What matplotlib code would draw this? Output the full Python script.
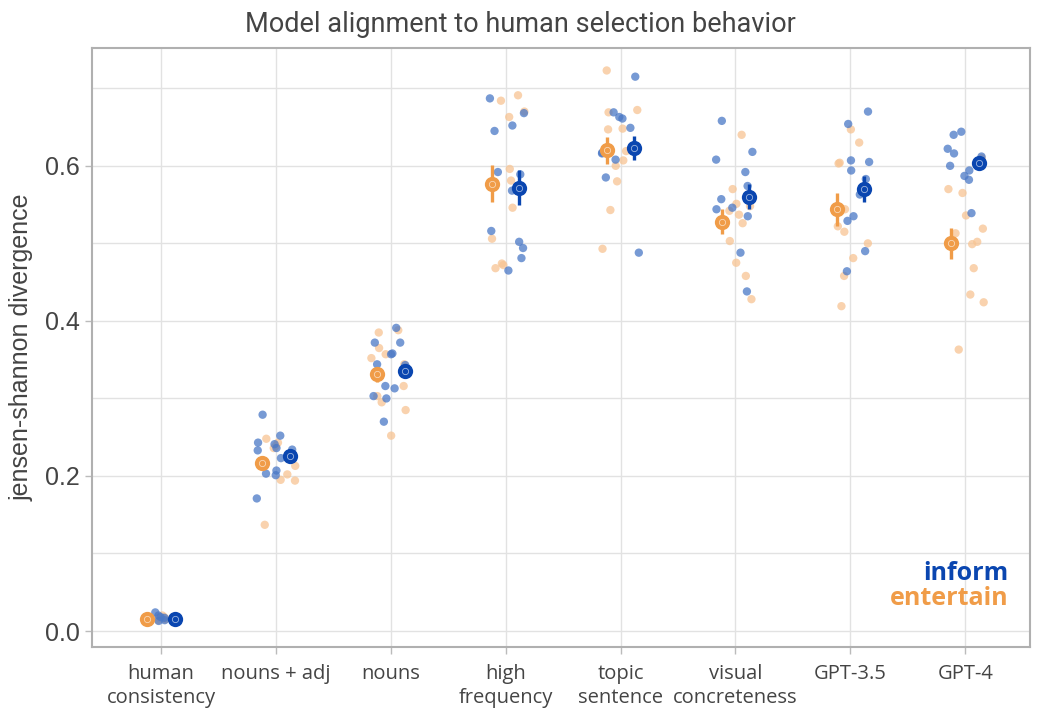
import numpy as np
import matplotlib
matplotlib.use("Agg")
import matplotlib.pyplot as plt
from matplotlib.ticker import MultipleLocator

categories = ["human\nconsistency", "nouns + adj", "nouns", "high\nfrequency",
              "topic\nsentence", "visual\nconcreteness", "GPT-3.5", "GPT-4"]

# condition means and error half-widths
inform_mean = [0.016, 0.226, 0.336, 0.572, 0.623, 0.560, 0.570, 0.604]
inform_err = [0.003, 0.008, 0.009, 0.023, 0.016, 0.016, 0.017, 0.005]
entertain_mean = [0.016, 0.217, 0.331, 0.577, 0.620, 0.528, 0.544, 0.500]
entertain_err = [0.003, 0.009, 0.010, 0.024, 0.017, 0.016, 0.021, 0.020]

# individual scores per category
inform_pts = [
    [0.024, 0.014, 0.017, 0.018, 0.013, 0.020],
    [0.279, 0.252, 0.243, 0.233, 0.236, 0.241, 0.234, 0.223, 0.207, 0.201, 0.203, 0.171],
    [0.391, 0.372, 0.372, 0.358, 0.357, 0.343, 0.316, 0.313, 0.303, 0.300, 0.270, 0.344],
    [0.687, 0.668, 0.645, 0.652, 0.592, 0.589, 0.568, 0.516, 0.502, 0.494, 0.481, 0.465],
    [0.715, 0.663, 0.661, 0.669, 0.649, 0.616, 0.608, 0.617, 0.585, 0.488],
    [0.658, 0.618, 0.608, 0.592, 0.574, 0.557, 0.546, 0.535, 0.544, 0.488, 0.438],
    [0.670, 0.654, 0.605, 0.607, 0.594, 0.583, 0.563, 0.535, 0.529, 0.490, 0.464],
    [0.644, 0.640, 0.622, 0.616, 0.612, 0.604, 0.600, 0.594, 0.587, 0.582, 0.539],
]
entertain_pts = [
    [0.020, 0.016, 0.018, 0.014, 0.017, 0.015],
    [0.248, 0.236, 0.239, 0.243, 0.213, 0.202, 0.195, 0.194, 0.137],
    [0.385, 0.388, 0.365, 0.357, 0.352, 0.316, 0.303, 0.295, 0.285, 0.252, 0.344],
    [0.691, 0.684, 0.670, 0.663, 0.596, 0.581, 0.546, 0.506, 0.472, 0.468, 0.474],
    [0.723, 0.669, 0.672, 0.648, 0.647, 0.623, 0.619, 0.607, 0.600, 0.580, 0.543, 0.493],
    [0.640, 0.570, 0.551, 0.548, 0.542, 0.537, 0.526, 0.503, 0.475, 0.458, 0.428],
    [0.647, 0.630, 0.604, 0.603, 0.544, 0.522, 0.515, 0.500, 0.481, 0.458, 0.419],
    [0.610, 0.570, 0.565, 0.536, 0.519, 0.513, 0.502, 0.499, 0.468, 0.434, 0.424, 0.363],
]

blue_dark = "#0a46b0"
blue_pt = "#4a78c6"
orange_dark = "#f09c48"
orange_pt = "#f7c493"
grey_txt = "#444444"

fig = plt.figure(figsize=(10.4, 7.12), dpi=100)
ax = fig.add_axes([0.0885, 0.0913, 0.9015, 0.8413])

rng = np.random.default_rng(7)
x = np.arange(len(categories))
for i in x:
    ye = np.array(entertain_pts[i])
    yi = np.array(inform_pts[i])
    spread = 0.05 if i == 0 else 0.17
    ax.scatter(i + rng.uniform(-spread, spread, len(ye)), ye, s=36, color=orange_pt,
               alpha=0.75, edgecolors="none", zorder=3)
    ax.scatter(i + rng.uniform(-spread, spread, len(yi)), yi, s=36, color=blue_pt,
               alpha=0.75, edgecolors="none", zorder=3)

dodge = 0.12
for xs, m, e, c in [(x - dodge, entertain_mean, entertain_err, orange_dark),
                    (x + dodge, inform_mean, inform_err, blue_dark)]:
    ax.errorbar(xs, m, yerr=e, fmt="none", ecolor=c, elinewidth=2.4, capsize=0, zorder=4)
    ax.plot(xs, m, "o", color=c, markersize=11, markeredgewidth=0, zorder=5)
    ax.plot(xs, m, "o", markerfacecolor="none", markeredgecolor="white",
            markersize=4.5, markeredgewidth=0.6, alpha=0.6, zorder=6)

ax.set_xlim(-0.60, 7.56)
ax.set_ylim(-0.0206, 0.752)
ax.set_xticks(x)
ax.set_xticklabels(categories, fontsize=14.5, color=grey_txt, family="Open Sans",
                   linespacing=1.3)
ax.yaxis.set_major_locator(MultipleLocator(0.2))
ax.yaxis.set_minor_locator(MultipleLocator(0.1))
ax.set_yticklabels([f"{v:.1f}" for v in ax.get_yticks()])
for lab in ax.get_yticklabels():
    lab.set_family("Liberation Sans")
    lab.set_fontsize(18)
    lab.set_color(grey_txt)
ax.tick_params(axis="x", which="major", length=5, width=1, color="#bbbbbb", pad=7)
ax.tick_params(axis="y", which="major", length=5, width=1, color="#bbbbbb", pad=4)
ax.tick_params(axis="y", which="minor", length=0)
ax.grid(True, which="both", axis="y", color="#e2e2e2", linewidth=1, zorder=0)
ax.grid(True, which="major", axis="x", color="#e2e2e2", linewidth=1, zorder=0)
ax.set_axisbelow(True)
for sp in ax.spines.values():
    sp.set_color("#b0b0b0")
    sp.set_linewidth(1.5)

ax.set_ylabel("jensen-shannon divergence", fontsize=18, color=grey_txt,
              family="Liberation Sans", labelpad=8)
fig.text(0.5, 0.965, "Model alignment to human selection behavior", ha="center",
         va="center", fontsize=19.5, color=grey_txt, family="Roboto")

ax.text(0.977, 0.123, "inform", transform=ax.transAxes, ha="right", va="center",
        fontsize=18, fontweight="bold", color=blue_dark, family="Open Sans")
ax.text(0.977, 0.081, "entertain", transform=ax.transAxes, ha="right", va="center",
        fontsize=18, fontweight="bold", color=orange_dark, family="Open Sans")

fig.savefig("out.png", dpi=100)
